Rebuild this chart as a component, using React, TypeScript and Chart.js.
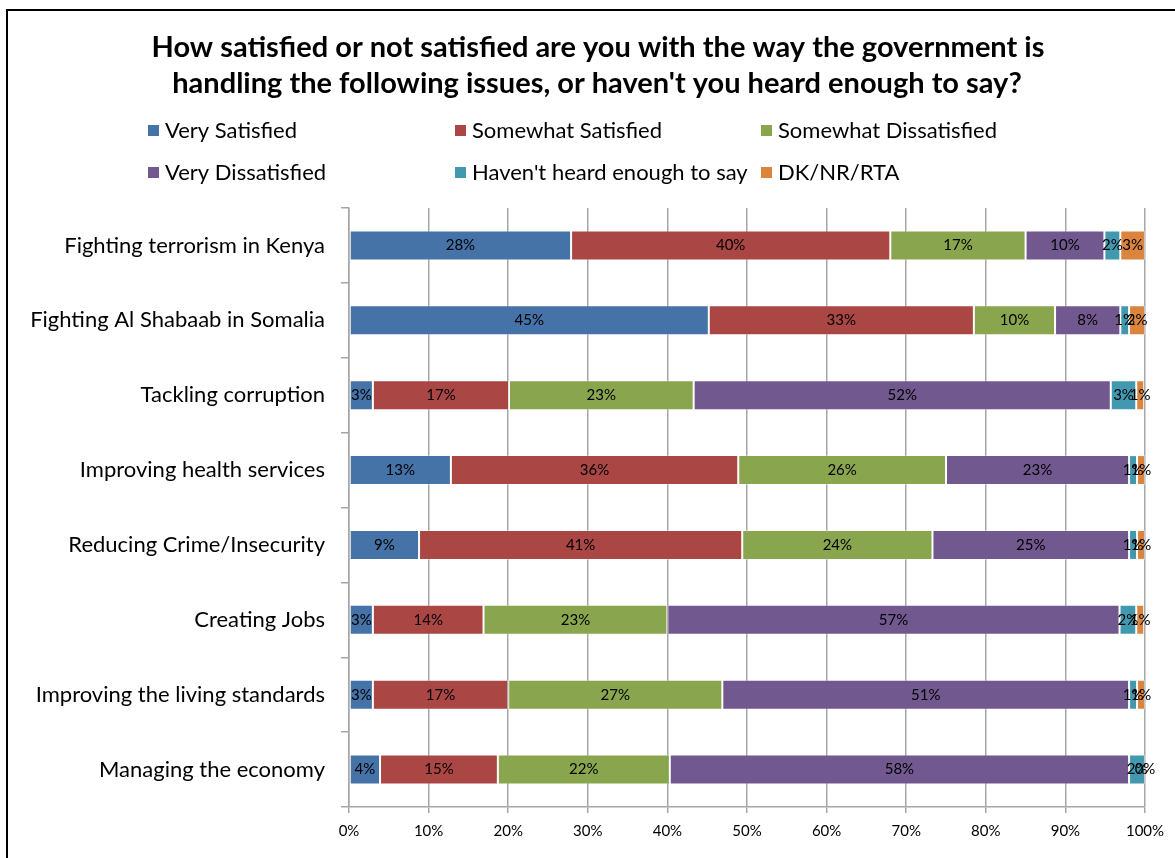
import React, { useEffect, useRef } from 'react';
import { Chart, registerables } from 'chart.js';

Chart.register(...registerables);

const categories = [
  'Fighting terrorism in Kenya',
  'Fighting Al Shabaab in Somalia',
  'Tackling corruption',
  'Improving health services',
  'Reducing Crime/Insecurity',
  'Creating Jobs',
  'Improving the living standards',
  'Managing the economy',
];

const seriesNames = [
  'Very Satisfied',
  'Somewhat Satisfied',
  'Somewhat Dissatisfied',
  'Very Dissatisfied',
  "Haven't heard enough to say",
  'DK/NR/RTA',
];

const verySatisfied = [27.9, 45.2, 3.0, 12.8, 8.8, 3.0, 3.0, 3.9];
const somewhatSatisfied = [40.1, 33.3, 17.1, 36.1, 40.6, 13.9, 17.0, 14.8];
const somewhatDissatisfied = [17.0, 10.2, 23.2, 26.1, 23.9, 23.1, 26.9, 21.6];
const veryDissatisfied = [9.9, 8.2, 52.4, 23.0, 24.7, 56.8, 51.1, 57.7];
const haventHeard = [2.0, 1.1, 3.2, 1.0, 1.0, 2.1, 1.0, 2.0];
const dkNrRta = [3.1, 2.0, 1.0, 1.0, 1.0, 1.0, 1.0, 0.0];

const xTicks = [0, 10, 20, 30, 40, 50, 60, 70, 80, 90, 100];

const titleLines = [
  'How satisfied or not satisfied are you with the way the government is',
  "handling the following issues, or haven't you heard enough to say?",
];

const colors = ['#4572A7', '#AA4643', '#89A54E', '#71588F', '#4198AF', '#DB843D'];

const FONT = 'Lato, "Open Sans", sans-serif';

export default function App() {
  const ref = useRef<HTMLCanvasElement | null>(null);

  useEffect(() => {
    if (!ref.current) return;
    const seriesData = [
      verySatisfied,
      somewhatSatisfied,
      somewhatDissatisfied,
      veryDissatisfied,
      haventHeard,
      dkNrRta,
    ];

    const framePlugin = {
      id: 'frame',
      beforeDraw(chart: any) {
        const ctx = chart.ctx;
        ctx.save();
        ctx.fillStyle = '#ffffff';
        ctx.fillRect(0, 0, chart.width, chart.height);
        ctx.fillStyle = '#000000';
        ctx.fillRect(6, 9, chart.width - 6, 2);
        ctx.fillRect(6, 9, 2, chart.height - 9);
        ctx.restore();
      },
    };

    const headerPlugin = {
      id: 'header',
      afterDraw(chart: any) {
        const ctx = chart.ctx;
        ctx.save();
        ctx.fillStyle = '#000000';
        ctx.textAlign = 'center';
        ctx.textBaseline = 'middle';
        ctx.font = `bold 29px ${FONT}`;
        ctx.fillText(titleLines[0], 598, 48);
        ctx.fillText(titleLines[1], 597, 84);
        // legend
        const cols = [148, 455, 761];
        const rows = [131, 173];
        ctx.font = `22px ${FONT}`;
        ctx.textAlign = 'left';
        seriesNames.forEach((name, i) => {
          const x = cols[i % 3];
          const y = rows[Math.floor(i / 3)];
          ctx.fillStyle = colors[i];
          ctx.fillRect(x, y - 6, 11, 11);
          ctx.fillStyle = '#000000';
          ctx.fillText(name, x + 17, y);
        });
        ctx.restore();
      },
    };

    const labelPlugin = {
      id: 'barLabels',
      afterDatasetsDraw(chart: any) {
        const ctx = chart.ctx;
        ctx.save();
        ctx.fillStyle = '#000000';
        ctx.font = `15px ${FONT}`;
        ctx.textAlign = 'center';
        ctx.textBaseline = 'middle';
        chart.data.datasets.forEach((ds: any, di: number) => {
          const meta = chart.getDatasetMeta(di);
          meta.data.forEach((bar: any, i: number) => {
            const v = ds.data[i];
            const cx = (bar.x + bar.base) / 2;
            ctx.fillText(Math.round(v) + '%', cx, bar.y);
          });
        });
        ctx.restore();
      },
    };

    const chart = new Chart(ref.current, {
      type: 'bar',
      data: {
        labels: categories,
        datasets: seriesNames.map((name, i) => ({
          label: name,
          data: seriesData[i],
          backgroundColor: colors[i],
          borderColor: 'rgba(255,255,255,0.35)',
          borderWidth: 1,
          borderSkipped: false,
          barPercentage: 0.4,
          categoryPercentage: 1,
        })),
      },
      options: {
        indexAxis: 'y',
        responsive: false,
        animation: false,
        layout: { padding: { left: 0, right: 30, top: 208, bottom: 0 } },
        plugins: {
          legend: { display: false },
          title: { display: false },
          tooltip: { enabled: false },
        },
        scales: {
          x: {
            stacked: true,
            min: 0,
            max: 100,
            afterBuildTicks(scale: any) {
              scale.ticks = xTicks.map((v) => ({ value: v }));
            },
            afterFit(scale: any) {
              scale.height = 51;
            },
            ticks: {
              callback: (v: any) => v + '%',
              color: '#000000',
              font: { family: FONT, size: 15 },
              padding: 9,
              maxRotation: 0,
            },
            grid: {
              color: '#a6a6a6',
              lineWidth: 1.5,
              drawTicks: true,
              tickLength: 6,
            },
            border: { display: true, color: '#a6a6a6', width: 1.5 },
          },
          y: {
            stacked: true,
            afterFit(scale: any) {
              scale.width = 349;
            },
            ticks: {
              color: '#000000',
              font: { family: FONT, size: 22 },
              padding: 16,
            },
            grid: {
              offset: true,
              drawOnChartArea: false,
              drawTicks: true,
              tickLength: 8,
              color: '#a6a6a6',
              lineWidth: 1.5,
            },
            border: { display: true, color: '#a6a6a6', width: 1.5 },
          },
        },
      },
      plugins: [framePlugin, headerPlugin, labelPlugin],
    } as any);

    return () => chart.destroy();
  }, []);

  return (
    <div style={{ position: 'absolute', left: 0, top: 0, width: 1175, height: 858 }}>
      <canvas ref={ref} width={1175} height={858} style={{ display: 'block' }} />
    </div>
  );
}
